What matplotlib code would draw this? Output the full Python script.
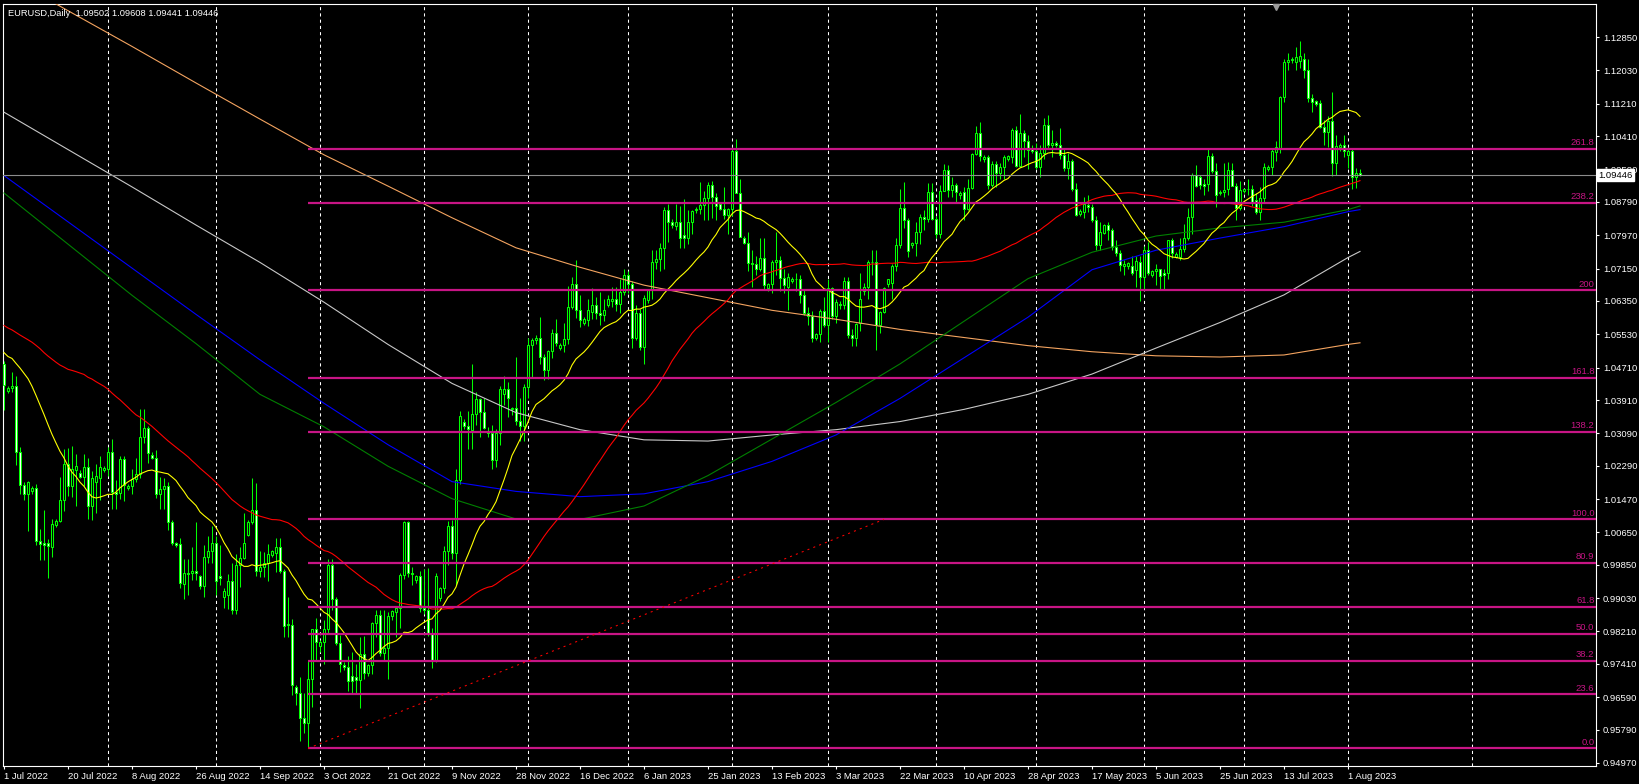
import matplotlib
matplotlib.use("Agg")
import matplotlib.pyplot as plt
import numpy as np
import pandas as pd
from matplotlib.transforms import blended_transform_factory

plt.rcParams['font.family'] = ['Liberation Sans', 'DejaVu Sans']

# ---------------- data (prices x 1e4), one bar per trading session ----------------
PRICE_SCALE = 1e4

open_x1e4 = [
    10481,10413,10421,10425,10263,10181,10159,10166,10174,10045,
    10038,10038,10028,10082,10094,10145,10233,10180,10218,10212,
    10202,10226,10130,10190,10200,10218,10222,10262,10165,10163,
    10247,10175,10180,10196,10210,10299,10322,10256,10248,10160,
    10172,10180,10090,10038,10037,9937,9966,9965,9970,9958,
    9932,10005,10018,10040,9958,9905,9910,9945,9875,9985,
    10002,10058,10090,10120,9970,9980,9990,10010,10015,10028,
    9970,9840,9836,9683,9670,9608,9595,9703,9828,9786,
    9795,9828,9984,9900,9793,9738,9733,9712,9708,9702,
    9766,9718,9738,9841,9862,9767,9780,9858,9870,9878,
    9960,10091,9966,9947,9958,9880,9873,9817,9750,9903,
    9927,10018,10081,10015,10195,10336,10328,10318,10357,10393,
    10362,10314,10310,10243,10310,10407,10417,10368,10372,10340,
    10328,10424,10527,10540,10545,10496,10466,10512,10555,10520,
    10527,10541,10621,10677,10613,10580,10588,10609,10625,10606,
    10600,10625,10635,10640,10627,10658,10699,10676,10545,10605,
    10521,10638,10661,10732,10738,10765,10859,10830,10819,10830,
    10797,10789,10830,10858,10862,10871,10888,10921,10892,10874,
    10862,10848,10862,11005,10902,10790,10779,10728,10725,10715,
    10740,10668,10676,10730,10737,10691,10670,10685,10689,10688,
    10650,10605,10597,10545,10553,10610,10575,10667,10598,10628,
    10625,10683,10550,10545,10580,10660,10670,10730,10732,10575,
    10608,10678,10680,10720,10773,10865,10835,10772,10778,10805,
    10843,10838,10903,10838,10801,10907,10957,10908,10920,10895,
    10903,10862,10913,10997,11049,10985,10990,10921,10972,10950,
    10966,10985,10990,11056,10967,11048,11030,11012,11005,10966,
    11000,11068,11019,11025,11020,10994,10962,10980,10912,10850,
    10855,10871,10866,10834,10773,10803,10822,10810,10769,10752,
    10720,10722,10721,10711,10732,10693,10761,10700,10710,10713,
    10703,10705,10784,10744,10744,10762,10789,10841,10945,10941,
    10923,10923,10992,10956,10900,10904,10910,10957,10917,10863,
    10906,10910,10912,10884,10855,10888,10960,10966,11003,11011,
    11138,11223,11228,11224,11227,11230,11204,11134,11128,11123,
    11063,11050,11079,10976,11015,11020,10995,11004,10941,10950,
]
high_x1e4 = [
    10486,10425,10461,10450,10276,10188,10192,10180,10185,10073,
    10121,10048,10097,10098,10201,10270,10274,10278,10258,10218,
    10258,10248,10215,10234,10254,10228,10275,10294,10195,10254,
    10252,10185,10222,10248,10368,10368,10328,10262,10268,10202,
    10200,10190,10095,10042,10050,9999,9999,10030,10090,9960,
    10034,10055,10080,10056,10033,9928,9962,9990,10012,10030,
    10113,10095,10198,10187,10020,10017,10036,10022,10050,10052,
    9976,9907,9852,9688,9710,9670,9750,9815,9854,9800,
    9848,9999,9999,9905,9812,9745,9760,9770,9740,9808,
    9810,9740,9845,9875,9875,9875,9870,9875,9880,9965,
    10093,10094,9980,9960,9970,9975,9977,9830,9965,9930,
    10032,10094,10096,10222,10364,10345,10364,10481,10410,10395,
    10395,10325,10330,10320,10425,10450,10435,10375,10496,10395,
    10430,10545,10545,10550,10595,10505,10515,10565,10590,10532,
    10580,10673,10695,10736,10650,10595,10640,10666,10645,10658,
    10640,10650,10670,10670,10690,10713,10710,10684,10625,10615,
    10650,10665,10760,10760,10778,10866,10875,10838,10875,10870,
    10885,10860,10860,10866,10927,10905,10928,10930,10900,10880,
    10915,10865,11012,11033,10935,10795,10805,10760,10745,10790,
    10790,10680,10735,10805,10745,10715,10705,10695,10705,10700,
    10665,10620,10610,10555,10615,10645,10690,10670,10640,10635,
    10695,10695,10565,10580,10705,10680,10735,10760,10760,10610,
    10670,10690,10725,10790,10912,10929,10840,10780,10830,10850,
    10860,10925,10925,10845,10920,10973,10970,10940,10925,10905,
    10915,10935,11000,11065,11075,10995,10995,10980,10980,10975,
    10995,10995,11062,11065,11095,11055,11045,11020,11025,11020,
    11085,11092,11055,11030,11060,11010,11000,10985,10925,10862,
    10890,10895,10875,10845,10830,10825,10830,10815,10785,10760,
    10735,10732,10745,10745,10745,10770,10780,10712,10725,10715,
    10715,10785,10790,10755,10790,10825,10865,10950,10970,10945,
    10935,11011,11000,10975,10908,10975,10978,10975,10925,10930,
    10912,10935,10920,10900,10915,10975,10970,11010,11030,11140,
    11230,11245,11235,11260,11276,11245,11230,11145,11130,11130,
    11080,11090,11150,11045,11025,11045,11012,11009,10962,10961,
]
low_x1e4 = [
    10366,10408,10410,10232,10160,10144,10068,10160,10035,9997,
    9998,9952,10005,10078,10090,10118,10155,10153,10130,10198,
    10180,10097,10095,10113,10145,10214,10205,10123,10123,10147,
    10142,10170,10160,10190,10200,10285,10235,10245,10150,10122,
    10122,10072,10033,10030,9927,9900,9910,9948,9948,9925,
    9905,9990,9990,9910,9935,9878,9876,9864,9864,9930,
    10000,10055,10085,9958,9955,9955,9945,10005,9967,9966,
    9808,9808,9665,9640,9550,9570,9536,9635,9749,9770,
    9740,9817,9875,9788,9720,9725,9675,9668,9670,9632,
    9705,9712,9715,9807,9760,9750,9705,9850,9808,9830,
    9950,9954,9935,9940,9870,9865,9810,9730,9745,9895,
    9915,9985,10000,9935,10185,10320,10270,10270,10330,10300,
    10320,10300,10222,10225,10280,10380,10350,10355,10330,10290,
    10290,10395,10445,10530,10480,10440,10443,10495,10525,10515,
    10510,10530,10615,10593,10570,10575,10574,10590,10590,10575,
    10585,10620,10620,10610,10605,10650,10655,10520,10540,10515,
    10481,10630,10640,10715,10710,10715,10780,10815,10810,10765,
    10765,10775,10800,10852,10850,10835,10835,10840,10835,10860,
    10837,10800,10845,10905,10795,10775,10710,10670,10700,10710,
    10665,10660,10655,10700,10660,10655,10613,10680,10660,10630,
    10600,10577,10535,10540,10533,10570,10535,10590,10580,10615,
    10615,10545,10525,10525,10560,10650,10640,10700,10515,10555,
    10605,10670,10640,10710,10765,10815,10744,10765,10745,10775,
    10810,10830,10835,10790,10790,10905,10890,10890,10880,10885,
    10835,10860,10910,10995,10980,10978,10910,10915,10915,10935,
    10935,10980,10975,10965,10965,10990,10960,11000,10960,10940,
    10985,11010,10990,11015,10985,10955,10935,10905,10845,10845,
    10840,10855,10830,10760,10760,10800,10785,10760,10745,10710,
    10700,10715,10700,10670,10635,10665,10700,10695,10675,10665,
    10665,10690,10740,10740,10735,10755,10785,10800,10915,10910,
    10895,10905,10950,10867,10895,10890,10895,10920,10835,10860,
    10900,10895,10870,10850,10834,10880,10955,10945,10980,11000,
    11125,11205,11222,11205,11210,11185,11125,11100,11115,11060,
    11020,11015,10943,10945,11005,10990,10962,10912,10913,10944,
]
close_x1e4 = [
    10428,10421,10425,10263,10181,10159,10188,10174,10045,10036,
    10034,10031,10085,10094,10145,10233,10180,10221,10228,10202,
    10226,10130,10198,10205,10225,10224,10262,10165,10160,10247,
    10182,10180,10197,10210,10299,10322,10260,10248,10160,10172,
    10180,10090,10040,10033,9940,9966,9963,9970,9965,9932,
    10005,10018,10040,9945,9952,9920,9945,9875,9985,10002,
    10040,10090,10120,9970,9980,9990,10013,10018,10028,9970,
    9835,9836,9690,9670,9608,9595,9703,9828,9796,9795,
    9828,9984,9900,9793,9740,9733,9700,9700,9702,9766,
    9718,9738,9841,9862,9767,9780,9858,9872,9878,9960,
    10091,9966,9963,9958,9880,9873,9817,9750,9957,9927,
    10018,10081,10015,10195,10352,10328,10320,10357,10393,10362,
    10322,10310,10243,10310,10417,10417,10395,10372,10340,10328,
    10424,10527,10540,10545,10496,10466,10512,10555,10532,10527,
    10541,10621,10677,10613,10587,10590,10613,10625,10606,10600,
    10614,10639,10640,10627,10658,10699,10676,10545,10605,10521,
    10642,10661,10732,10738,10765,10859,10830,10822,10830,10790,
    10789,10830,10857,10862,10872,10888,10921,10892,10869,10862,
    10848,10862,11005,10902,10792,10779,10728,10725,10715,10740,
    10675,10676,10730,10737,10691,10675,10695,10689,10688,10650,
    10605,10597,10545,10553,10610,10575,10667,10598,10633,10625,
    10683,10550,10545,10578,10640,10670,10730,10732,10575,10608,
    10668,10688,10720,10773,10865,10835,10757,10778,10805,10843,
    10838,10903,10838,10801,10907,10957,10908,10920,10903,10900,
    10862,10913,10997,11049,10993,10990,10921,10972,10950,10966,
    10990,10992,11056,10967,11048,11030,11008,11005,10966,11000,
    11068,11019,11025,11020,10994,10962,10980,10912,10847,10857,
    10874,10866,10834,10773,10806,10822,10810,10769,10752,10724,
    10727,10728,10705,10734,10693,10761,10705,10710,10713,10697,
    10700,10784,10754,10751,10762,10789,10841,10945,10918,10921,
    10918,10992,10956,10896,10904,10908,10957,10917,10863,10908,
    10910,10912,10880,10855,10888,10966,10965,11005,11015,11138,
    11224,11229,11231,11237,11238,11204,11134,11126,11120,11063,
    11050,11079,10976,11017,11020,11005,11004,10941,10950,10945,
]
# closes of the 59 sessions before the first bar (feed the fast averages)
pre_close_x1e4 = [
    10790,10715,10640,10560,10500,10545,10540,10505,10525,10620,
    10540,10550,10545,10560,10530,10515,10380,10410,10405,10435,
    10550,10465,10590,10560,10570,10690,10735,10680,10725,10735,
    10740,10780,10735,10650,10750,10720,10720,10700,10705,10715,
    10615,10520,10505,10410,10420,10450,10550,10495,10500,10510,
    10530,10565,10520,10555,10560,10585,10520,10440,10480,
]
fast_ma_period = 20
mid_ma_period = 60

# slow moving averages at every 16th bar (+ last bar)
ma_sample_bars = [0,16,32,48,64,80,96,112,128,144,160,176,192,208,224,240,256,272,288,304,320,336,339]
ma_green = [1.0901,1.0775,1.0649,1.0530,1.0405,1.0325,1.0228,1.0148,1.0098,1.0097,1.0130,1.0205,
            1.0295,1.0385,1.0480,1.0585,1.0690,1.0755,1.0795,1.0815,1.0829,1.0860,1.0869]
ma_blue = [1.0944,1.0830,1.0716,1.0602,1.0490,1.0383,1.0281,1.0190,1.0166,1.0153,1.0160,1.0190,
           1.0240,1.0305,1.0395,1.0495,1.0595,1.0712,1.0760,1.0790,1.0818,1.0855,1.0860]
ma_silver = [1.1100,1.1008,1.0916,1.0822,1.0730,1.0632,1.0528,1.0432,1.0360,1.0318,1.0293,1.0290,
             1.0305,1.0318,1.0338,1.0368,1.0405,1.0455,1.0519,1.0582,1.0650,1.0742,1.0757]
ma_orange = [1.1439,1.1350,1.1262,1.1172,1.1083,1.0995,1.0918,1.0840,1.0766,1.0718,1.0674,1.0643,
             1.0612,1.0590,1.0565,1.0545,1.0525,1.0510,1.0500,1.0497,1.0502,1.0528,1.0532]

# Fibonacci object
fib_bars = [76, 220]
fib_prices = [0.9533, 1.0097]
fib_ratios = [0.0, 0.236, 0.382, 0.5, 0.618, 0.809, 1.0, 1.382, 1.618, 2.0, 2.382, 2.618]
fib_texts = ["0.0", "23.6", "38.2", "50.0", "61.8", "80.9", "100.0", "138.2", "161.8", "200", "238.2", "261.8"]

# axis text
date_label_bars = list(range(0, 337, 16))
date_labels = ["1 Jul 2022", "20 Jul 2022", "8 Aug 2022", "26 Aug 2022", "14 Sep 2022", "3 Oct 2022",
               "21 Oct 2022", "9 Nov 2022", "28 Nov 2022", "16 Dec 2022", "6 Jan 2023", "25 Jan 2023",
               "13 Feb 2023", "3 Mar 2023", "22 Mar 2023", "10 Apr 2023", "28 Apr 2023", "17 May 2023",
               "5 Jun 2023", "25 Jun 2023", "13 Jul 2023", "1 Aug 2023"]
month_start_bars = [26, 53, 79, 105, 131, 156, 182, 206, 233, 258, 285, 310, 336, 367]
price_ticks = [0.94970, 0.95790, 0.96590, 0.97410, 0.98210, 0.99030, 0.99850, 1.00650, 1.01470,
               1.02290, 1.03090, 1.03910, 1.04710, 1.05530, 1.06350, 1.07150, 1.07970, 1.08790,
               1.09590, 1.10410, 1.11210, 1.12030, 1.12850]
last_price = 1.09446
title_text = "EURUSD,Daily  1.09502 1.09608 1.09441 1.09446"

for arr in (open_x1e4, high_x1e4, low_x1e4, close_x1e4):
    assert len(arr) == 340, len(arr)

# ---------------- figure ----------------
o = np.array(open_x1e4) / PRICE_SCALE
h = np.array(high_x1e4) / PRICE_SCALE
l = np.array(low_x1e4) / PRICE_SCALE
c = np.array(close_x1e4) / PRICE_SCALE
x = np.arange(len(c))

fig = plt.figure(figsize=(16.4, 7.84), dpi=100, facecolor='black')
ax = fig.add_axes([3/1640, 18/784, 1593/1640, 762/784], facecolor='black')
ax.set_xlim(-0.25, 398)
ax.set_ylim(0.94896, 1.13665)

# grid (month starts)
for b in month_start_bars:
    ax.axvline(b, color='white', lw=0.75, ls=(0, (3, 3)), zorder=1)

# candles
up = c >= o
ax.vlines(x, l, h, colors='#00FF00', lw=0.75, zorder=3)
body_bottom = np.minimum(o, c)
body_h = np.abs(c - o)
ax.bar(x[up], body_h[up], bottom=body_bottom[up], width=0.5, color='black',
       edgecolor='#00FF00', linewidth=0.75, zorder=4)
ax.bar(x[~up], body_h[~up], bottom=body_bottom[~up], width=0.5, color='white',
       edgecolor='#00FF00', linewidth=0.75, zorder=4)

# moving averages
all_close = pd.Series(pre_close_x1e4 + close_x1e4) / PRICE_SCALE
n_pre = len(pre_close_x1e4)
sma_fast = all_close.rolling(fast_ma_period).mean().to_numpy()[n_pre:]
sma_mid = all_close.rolling(mid_ma_period).mean().to_numpy()[n_pre:]
ax.plot(ma_sample_bars, ma_orange, color='#F4A460', lw=0.8, zorder=5)
ax.plot(ma_sample_bars, ma_silver, color='#C8C8C8', lw=0.8, zorder=5)
ax.plot(ma_sample_bars, ma_blue, color='#0000FF', lw=0.8, zorder=5)
ax.plot(ma_sample_bars, ma_green, color='#008000', lw=0.8, zorder=5)
ax.plot(x, sma_mid, color='#FF0000', lw=0.8, zorder=5)
ax.plot(x, sma_fast, color='#FFFF00', lw=0.8, zorder=5)

# fibonacci levels (drawn over the chart, like chart objects)
rng = fib_prices[1] - fib_prices[0]
trans_lbl = blended_transform_factory(ax.transAxes, ax.transData)
for r, t in zip(fib_ratios, fib_texts):
    lvl = fib_prices[0] + r * rng
    ax.hlines(lvl, fib_bars[0], 398, colors='#C71585', lw=1.6, zorder=6)
    ax.annotate(t, xy=(0.999, lvl), xycoords=trans_lbl, xytext=(0, 1.2), textcoords='offset points',
                ha='right', va='bottom', color='#C71585', fontsize=6.8, zorder=7)
ax.plot(fib_bars, fib_prices, color='#FF0000', lw=0.75, ls=(0, (2, 4)), zorder=6)

# current price line
ax.axhline(last_price, color='#8C8C8C', lw=0.8, zorder=6)

# axes styling
for s in ax.spines.values():
    s.set_color('white')
    s.set_linewidth(0.8)
ax.yaxis.tick_right()
ax.set_yticks(price_ticks)
ax.set_yticklabels([f"{v:.5f}" for v in price_ticks])
ax.set_xticks(date_label_bars)
ax.set_xticklabels(date_labels, ha='left')
ax.tick_params(axis='y', colors='white', labelcolor='white', labelsize=6.8, length=2.5, width=0.8, pad=2.5)
ax.tick_params(axis='x', colors='white', labelcolor='white', labelsize=6.8, length=2.5, width=0.8, pad=1.5)

# current price box
ax.text(1.0015, last_price, f"{last_price:.5f}", transform=trans_lbl, ha='left', va='center',
        fontsize=6.8, color='black', zorder=20, clip_on=False,
        bbox=dict(boxstyle='square,pad=0.18', fc='white', ec='white'))

# chart shift marker
ax.plot([0.799], [0.996], marker='v', ms=4, color='#9A9A9A', transform=ax.transAxes, zorder=20, clip_on=False)

# title
fig.text(8/1640, 1 - 13/784, title_text, color='white', fontsize=6.7, ha='left', va='center')

fig.savefig('out.png', dpi=100, facecolor='black')
